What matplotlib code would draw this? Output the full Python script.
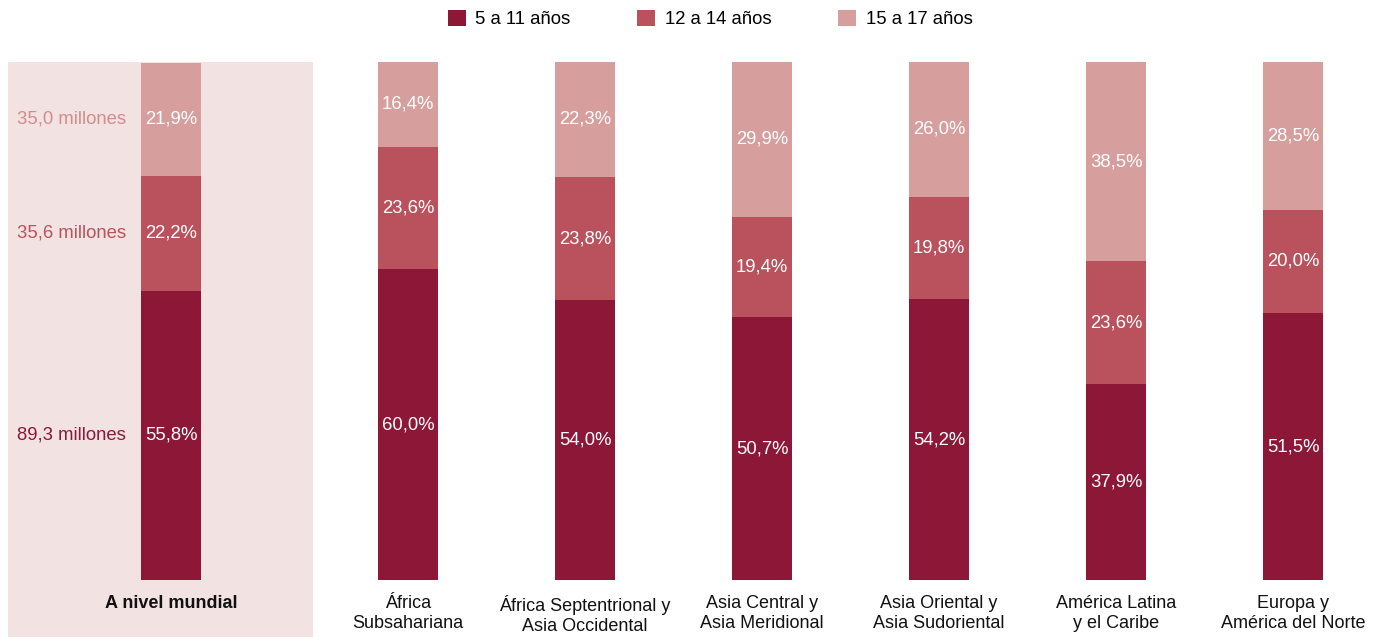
import matplotlib
matplotlib.use("Agg")
import matplotlib.pyplot as plt
from matplotlib.patches import Rectangle
import numpy as np

plt.rcParams['font.family'] = ['Liberation Sans', 'DejaVu Sans']

categories = ["A nivel mundial", "África\nSubsahariana", "África Septentrional y\nAsia Occidental",
              "Asia Central y\nAsia Meridional", "Asia Oriental y\nAsia Sudoriental",
              "América Latina\ny el Caribe", "Europa y\nAmérica del Norte"]
series_names = ["5 a 11 años", "12 a 14 años", "15 a 17 años"]
age_5_11 = [55.8, 60.0, 54.0, 50.7, 54.2, 37.9, 51.5]
age_12_14 = [22.2, 23.6, 23.8, 19.4, 19.8, 23.6, 20.0]
age_15_17 = [21.9, 16.4, 22.3, 29.9, 26.0, 38.5, 28.5]
world_millions = ["89,3 millones", "35,6 millones", "35,0 millones"]

colors = ["#8c1737", "#b9525c", "#d69e9d"]
bg_color = "#f3e2e2"

W, H = 1388, 637
fig = plt.figure(figsize=(W / 100, H / 100), dpi=100)
fig.patch.set_facecolor("white")

# highlighted world panel
fig.patches.append(Rectangle((8 / W, 0), (313 - 8) / W, (H - 62) / H,
                             transform=fig.transFigure, facecolor=bg_color,
                             edgecolor="none", zorder=-5))

ax = fig.add_axes([0, (H - 580) / H, 1, 518 / H])
ax.set_zorder(2)
ax.set_facecolor("none")
ax.patch.set_alpha(0)
spacing = 177.0
x0 = 171.0
positions = np.array([0.0] + [(408.0 - x0) / spacing + i for i in range(6)])
width = 60 / spacing

data = [age_5_11, age_12_14, age_15_17]
bottom = np.zeros(len(categories))
for vals, col, name in zip(data, colors, series_names):
    vals = np.array(vals)
    ax.bar(positions, vals, width=width, bottom=bottom, color=col, label=name,
           edgecolor="none", zorder=2)
    for x, b, v in zip(positions, bottom, vals):
        ax.text(x, b + v / 2, f"{v:.1f}%".replace(".", ","), ha="center", va="center",
                color="white", fontsize=13.3, zorder=3)
    bottom = bottom + vals

# world millions labels
wb = 0.0
for vals, col, lab in zip(data, colors, world_millions):
    v = vals[0]
    lab_col = col if col != colors[2] else "#d48b8b"
    ax.text(positions[0] - (171 - 126) / spacing, wb + v / 2, lab, ha="right", va="center",
            color=lab_col, fontsize=13.3)
    wb += v

ax.set_xlim(-x0 / spacing, (W - x0) / spacing)
ax.set_ylim(0, 100)
ax.set_yticks([])
ax.set_xticks(positions)
ax.set_xticklabels(categories, fontsize=13, color="#111111", linespacing=1.2)
ax.get_xticklabels()[0].set_fontweight("bold")
ax.tick_params(axis="x", length=0, pad=11)
for s in ax.spines.values():
    s.set_visible(False)

handles, labels = ax.get_legend_handles_labels()
fig.legend(handles, labels, ncol=3, loc="center", bbox_to_anchor=(710 / W, 1 - 19 / H),
           frameon=False, fontsize=13.3, handlelength=1.0, handleheight=1.0,
           handletextpad=0.5, columnspacing=3.6)

fig.savefig("out.png", dpi=100, facecolor="white")
